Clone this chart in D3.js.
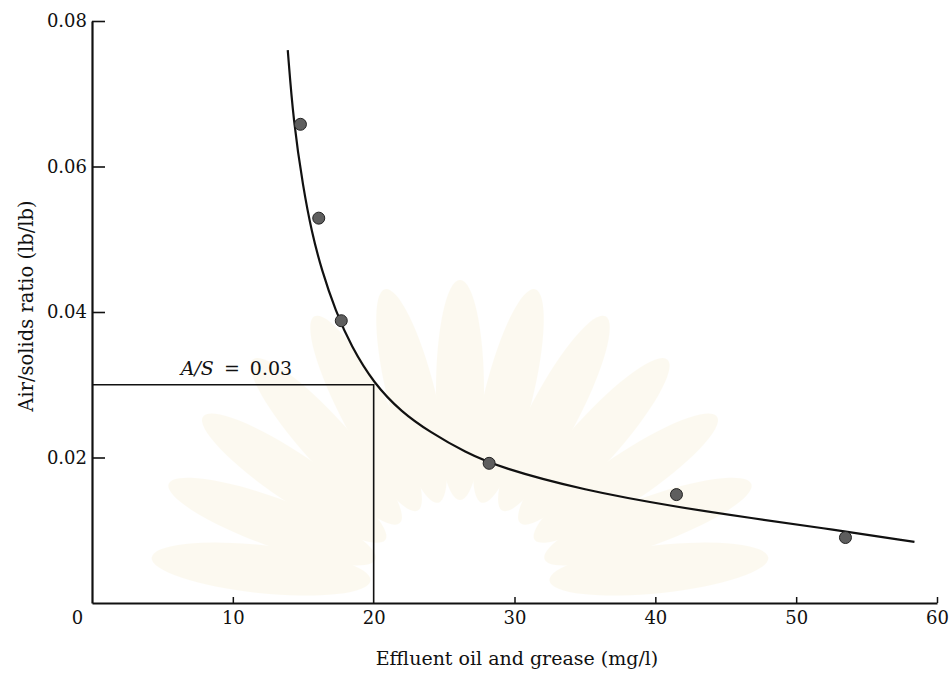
<!DOCTYPE html>
<html>
<head>
<meta charset="utf-8">
<script src="https://cdn.jsdelivr.net/npm/d3@7"></script>
<style>
  body { margin: 0; background: #fff; }
  svg { display: block; }
  text { font-family: "DejaVu Serif", "Liberation Serif", serif; fill: #111; }
</style>
</head>
<body>
<div id="chart"></div>
<script>
// measured points (effluent oil & grease mg/l, air/solids ratio lb/lb)
var pointX = [14.8, 16.1, 17.7, 28.2, 41.5, 53.5];
var pointY = [0.0658, 0.0529, 0.0388, 0.0192, 0.0149, 0.0090];

// hand drawn fitted curve
var curveX = [13.9, 14.3, 15.0, 15.6, 16.3, 17.3, 18.4, 20.0, 22.0, 24.0, 26.5, 29.0, 34.9, 41.5, 46.7, 52.6, 58.4];
var curveY = [0.076, 0.0662, 0.0570, 0.0510, 0.0458, 0.0401, 0.0353, 0.0302, 0.0262, 0.0235, 0.0207, 0.0186, 0.0155, 0.0132, 0.0117, 0.0101, 0.0084];

var xTicks = [0, 10, 20, 30, 40, 50, 60];
var yTicks = [0.02, 0.04, 0.06, 0.08];
var designAS = 0.03;
var designX = 20;

var svgWidth = 949;
var svgHeight = 675;

var svg = d3.select("#chart")
  .append("svg")
  .attr("width", svgWidth)
  .attr("height", svgHeight);

var x = d3.scaleLinear().domain([0, 60]).range([92, 937]);
var y = d3.scaleLinear().domain([0, 0.08]).range([603, 21]);

// very faint watermark behind the plot
var wm = svg.append("g")
  .attr("transform", "translate(460, 590)")
  .attr("opacity", 0.14);
d3.range(-84, 85, 14).forEach(function(a) {
  wm.append("ellipse")
    .attr("cx", 0)
    .attr("cy", -200)
    .attr("rx", 24)
    .attr("ry", 110)
    .attr("transform", "rotate(" + a + ")")
    .attr("fill", "#f0dc9a");
});

// axes
var bottomAxis = d3.axisBottom(x)
  .tickValues(xTicks)
  .tickSizeInner(-6)
  .tickSizeOuter(0)
  .tickPadding(8)
  .tickFormat(d3.format("d"));

var xAxis = svg.append("g")
  .attr("transform", "translate(0," + y(0) + ")")
  .call(bottomAxis);

xAxis.select(".domain").attr("stroke", "#111").attr("stroke-width", 2.2);
xAxis.selectAll(".tick line").attr("stroke", "#111").attr("stroke-width", 1.5);
xAxis.selectAll(".tick text").style("font-size", "18px");
xAxis.selectAll(".tick").filter(function(d) { return d === 0 || d === 20; })
  .select("line").remove();
xAxis.selectAll(".tick").filter(function(d) { return d === 0; })
  .select("text").attr("dx", -15);

var leftAxis = d3.axisLeft(y)
  .tickValues(yTicks)
  .tickSizeInner(-13)
  .tickSizeOuter(0)
  .tickPadding(5)
  .tickFormat(d3.format(".2f"));

var yAxis = svg.append("g")
  .attr("transform", "translate(" + x(0) + ",0)")
  .call(leftAxis);

yAxis.select(".domain").attr("stroke", "#111").attr("stroke-width", 2.2);
yAxis.selectAll(".tick line").attr("stroke", "#111").attr("stroke-width", 1.6);
yAxis.selectAll(".tick text").style("font-size", "18px");

// design line A/S = 0.03
svg.append("path")
  .attr("d", "M" + x(0) + "," + y(designAS) + "H" + x(designX) + "V" + y(0))
  .attr("fill", "none")
  .attr("stroke", "#111")
  .attr("stroke-width", 1.6);

var asLabel = svg.append("text")
  .attr("x", x(6.3))
  .attr("y", y(designAS) - 10)
  .style("font-size", "19px")
  .style("word-spacing", "4px");
asLabel.append("tspan").style("font-style", "italic").text("A/S");
asLabel.append("tspan").text(" = 0.03");

// fitted curve
var line = d3.line()
  .x(function(d) { return x(d[0]); })
  .y(function(d) { return y(d[1]); })
  .curve(d3.curveBasis);

svg.append("path")
  .datum(d3.zip(curveX, curveY))
  .attr("d", line)
  .attr("fill", "none")
  .attr("stroke", "#111")
  .attr("stroke-width", 2.2);

// data points
svg.selectAll("circle.pt")
  .data(d3.zip(pointX, pointY))
  .enter()
  .append("circle")
  .attr("class", "pt")
  .attr("cx", function(d) { return x(d[0]); })
  .attr("cy", function(d) { return y(d[1]); })
  .attr("r", 6)
  .attr("fill", "#5e5e5e")
  .attr("stroke", "#222")
  .attr("stroke-width", 1);

// axis titles
svg.append("text")
  .attr("x", 517)
  .attr("y", 665)
  .attr("text-anchor", "middle")
  .style("font-size", "19px")
  .text("Effluent oil and grease (mg/l)");

svg.append("text")
  .attr("transform", "translate(33,306) rotate(-90)")
  .attr("text-anchor", "middle")
  .style("font-size", "19.5px")
  .text("Air/solids ratio (lb/lb)");
</script>
</body>
</html>
